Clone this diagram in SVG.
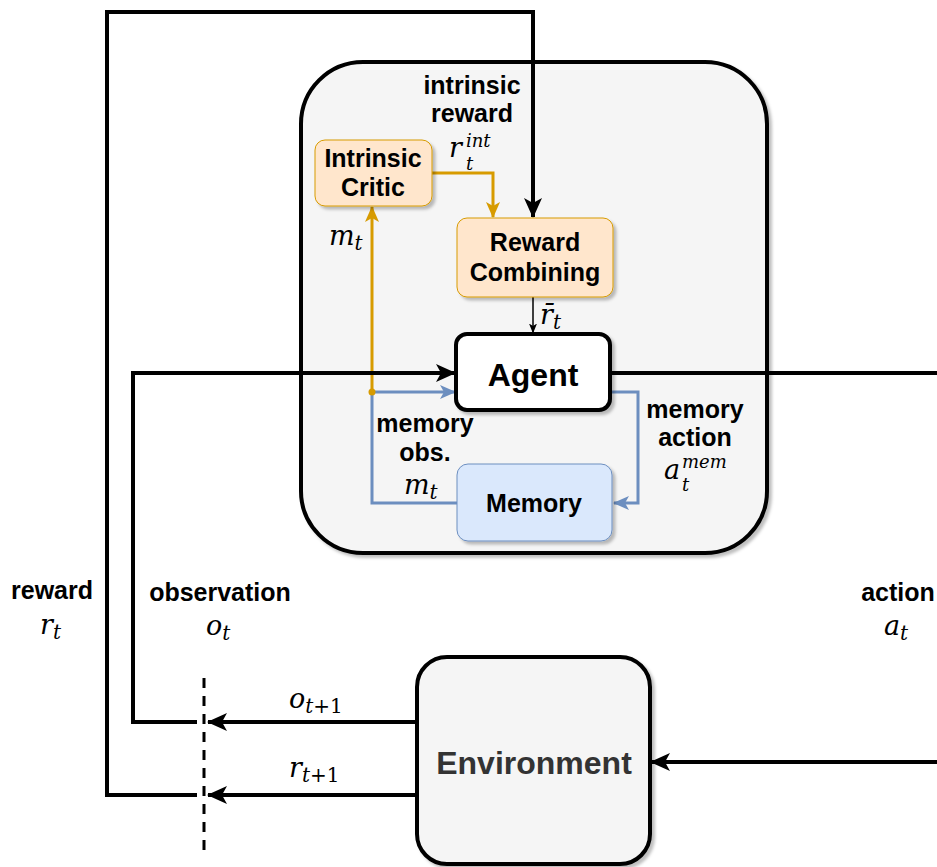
<svg xmlns="http://www.w3.org/2000/svg" width="937" height="867" viewBox="0 0 937 867">
<style>
.lbl{font-family:"Liberation Sans",Arial,sans-serif;font-weight:bold;font-size:25px;fill:#000;text-anchor:middle}
.big{font-family:"Liberation Sans",Arial,sans-serif;font-weight:bold;font-size:32px;text-anchor:middle}
.m{font-family:"DejaVu Serif","Liberation Serif",serif;font-style:italic;font-size:27px;fill:#000}
.s{font-family:"DejaVu Serif","Liberation Serif",serif;font-style:italic;font-size:20px;fill:#000}
.ss{font-family:"DejaVu Serif","Liberation Serif",serif;font-style:italic;font-size:18px;fill:#000}
.u{font-style:normal}
.blk{fill:none;stroke:#000;stroke-width:4}
.org{fill:none;stroke:#d79b00;stroke-width:3}
.blu{fill:none;stroke:#6c8ebf;stroke-width:3}
</style>
<defs>
<filter id="sh" x="-10%" y="-10%" width="130%" height="130%"><feDropShadow dx="3" dy="3" stdDeviation="1.5" flood-color="#000" flood-opacity="0.25"/></filter>
<marker id="ab" viewBox="0 0 20 18" refX="19" refY="9" markerWidth="20" markerHeight="18" markerUnits="userSpaceOnUse" orient="auto"><path d="M0,0 L20,9 L0,18 L5,9 z" fill="#000"/></marker>
<marker id="ao" viewBox="0 0 16 14" refX="15" refY="7" markerWidth="16" markerHeight="14" markerUnits="userSpaceOnUse" orient="auto"><path d="M0,0 L16,7 L0,14 L4,7 z" fill="#d79b00"/></marker>
<marker id="au" viewBox="0 0 16 14" refX="15" refY="7" markerWidth="16" markerHeight="14" markerUnits="userSpaceOnUse" orient="auto"><path d="M0,0 L16,7 L0,14 L4,7 z" fill="#6c8ebf"/></marker>
<marker id="at" viewBox="0 0 10 8" refX="9.5" refY="4" markerWidth="10" markerHeight="8" markerUnits="userSpaceOnUse" orient="auto"><path d="M0,0 L10,4 L0,8 L2.5,4 z" fill="#000"/></marker>
</defs>

<g id="container">
<rect x="301" y="62" width="466" height="491" rx="62" fill="#f5f5f5" stroke="#000" stroke-width="4" filter="url(#sh)"/>
</g>

<g id="connectors">
<path class="blk" d="M197,795 H107 V12 H533 V217" marker-end="url(#ab)"/>
<path class="org" d="M432,173 H493 V217" marker-end="url(#ao)"/>
<path class="blu" d="M457,503 H372 V392 H455" marker-end="url(#au)"/>
<path class="org" d="M372,392 V207" marker-end="url(#ao)"/>
<circle cx="372" cy="392" r="3.5" fill="#d79b00"/>
<path class="blu" d="M610,392 H638 V503 H614" marker-end="url(#au)"/>
<path fill="none" stroke="#000" stroke-width="1.5" d="M533,297 V333" marker-end="url(#at)"/>
<path class="blk" d="M197,722 H133 V373 H455" marker-end="url(#ab)"/>
<path class="blk" d="M610,373 H940"/>
<path class="blk" d="M940,762 H651" marker-end="url(#ab)"/>
<path class="blk" d="M417,722 H208" marker-end="url(#ab)"/>
<path class="blk" d="M417,795 H208" marker-end="url(#ab)"/>
<path fill="none" stroke="#000" stroke-width="3" stroke-dasharray="10,8" d="M204,678 V855"/>
</g>

<g id="intrinsic-critic">
<rect x="315" y="140" width="117" height="66" rx="10" fill="#ffe6cc" stroke="#d79b00" stroke-width="1" filter="url(#sh)"/>
<text class="lbl" x="373" y="167">Intrinsic</text>
<text class="lbl" x="373" y="196">Critic</text>
</g>

<g id="reward-combining">
<rect x="457" y="218" width="156" height="79" rx="10" fill="#ffe6cc" stroke="#d79b00" stroke-width="1" filter="url(#sh)"/>
<text class="lbl" x="535" y="251">Reward</text>
<text class="lbl" x="535" y="281">Combining</text>
</g>

<g id="agent">
<rect x="456" y="334" width="154" height="76" rx="11" fill="#fff" stroke="#000" stroke-width="4" filter="url(#sh)"/>
<text class="big" x="533" y="386" fill="#000">Agent</text>
</g>

<g id="memory">
<rect x="457" y="464" width="155" height="77" rx="11" fill="#dae8fc" stroke="#6c8ebf" stroke-width="1" filter="url(#sh)"/>
<text class="lbl" x="534" y="512">Memory</text>
</g>

<g id="environment">
<rect x="417" y="657" width="233" height="207" rx="30" fill="#f5f5f5" stroke="#000" stroke-width="4" filter="url(#sh)"/>
<text class="big" x="534" y="774" fill="#333">Environment</text>
</g>

<g id="labels">
<text class="lbl" x="472" y="94">intrinsic</text>
<text class="lbl" x="472" y="122">reward</text>
<text class="m" x="449" y="157">r</text>
<text class="ss" x="466" y="147">int</text>
<text class="ss" x="466" y="170">t</text>
<text class="m" x="329" y="245">m<tspan class="s" dy="5">t</tspan></text>
<text class="m" x="540" y="324">r̄<tspan class="s" dy="5">t</tspan></text>
<text class="lbl" x="425" y="432">memory</text>
<text class="lbl" x="425" y="461">obs.</text>
<text class="m" x="404" y="494">m<tspan class="s" dy="5">t</tspan></text>
<text class="lbl" x="695" y="418">memory</text>
<text class="lbl" x="695" y="446">action</text>
<text class="m" x="664" y="479">a</text>
<text class="ss" x="682" y="468">mem</text>
<text class="ss" x="682" y="491">t</text>
<text class="lbl" x="52" y="599">reward</text>
<text class="m" x="40" y="634">r<tspan class="s" dy="5">t</tspan></text>
<text class="lbl" x="220" y="601">observation</text>
<text class="m" x="206" y="635">o<tspan class="s" dy="5">t</tspan></text>
<text class="lbl" x="898" y="601">action</text>
<text class="m" x="884" y="635">a<tspan class="s" dy="5">t</tspan></text>
<text class="m" x="289" y="708">o<tspan class="s" dy="5">t<tspan class="u">+1</tspan></tspan></text>
<text class="m" x="289" y="777">r<tspan class="s" dy="5">t<tspan class="u">+1</tspan></tspan></text>
</g>
</svg>
